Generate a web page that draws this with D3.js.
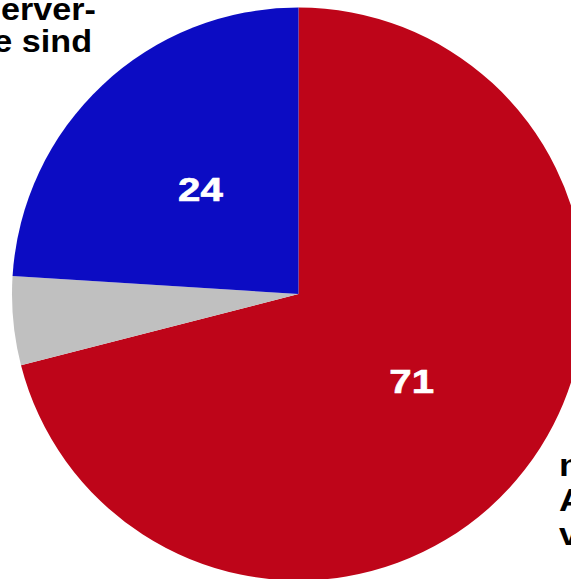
<!DOCTYPE html>
<html>
<head>
<meta charset="utf-8">
<script src="https://cdn.jsdelivr.net/npm/d3@7"></script>
<style>
  html, body { margin: 0; padding: 0; background: #ffffff; overflow: hidden; }
  svg { display: block; }
  .note { font-family: "Liberation Sans", Arial, sans-serif; font-weight: bold; fill: #000000; }
  .val { font-family: "Liberation Sans", Arial, sans-serif; font-weight: bold; fill: #ffffff; }
</style>
</head>
<body>
<svg id="chart" width="571" height="579"></svg>
<script>
// Slices, drawn clockwise from 12 o'clock
const categories = ["rot", "grau", "blau"];
const values = [71, 5, 24];
const colors = ["#be0519", "#c0c0c0", "#0c0cc3"];
const showValue = [true, false, true];

// Annotation text that runs off the edges of the page
const noteTopLeft = ["erver-", "e sind"];
const noteBottomRight = ["n", "A", "v"];

const width = 571, height = 579;
const cx = 298.5, cy = 294, radius = 286.5;

const svg = d3.select("#chart");
const g = svg.append("g").attr("transform", `translate(${cx},${cy})`);

const data = categories.map((c, i) => ({ name: c, value: values[i], color: colors[i], show: showValue[i] }));

const pie = d3.pie().sort(null).value(d => d.value).startAngle(0).endAngle(2 * Math.PI);
const arc = d3.arc().innerRadius(0).outerRadius(radius);
const labelArc = d3.arc().innerRadius(radius * 0.5).outerRadius(radius * 0.5);

const arcs = pie(data);

g.selectAll("path.slice")
  .data(arcs)
  .enter()
  .append("path")
  .attr("class", "slice")
  .attr("d", arc)
  .attr("fill", d => d.data.color);

g.selectAll("text.val")
  .data(arcs.filter(d => d.data.show))
  .enter()
  .append("text")
  .attr("class", "val")
  .attr("transform", d => {
    const [x, y] = labelArc.centroid(d);
    return `translate(${x},${y + 11.5}) scale(1.22,1)`;
  })
  .attr("text-anchor", "middle")
  .attr("font-size", 33)
  .attr("stroke", "#ffffff")
  .attr("stroke-width", 0.6)
  .text(d => d.data.value);

// Top-left note (wide bold lettering)
svg.append("g").selectAll("text")
  .data(noteTopLeft)
  .enter()
  .append("text")
  .attr("class", "note")
  .attr("text-anchor", "end")
  .attr("transform", (d, i) => `translate(${i === 0 ? 96 : 92},${20 + i * 31.5}) scale(1.12,1)`)
  .attr("font-size", 30.5)
  .text(d => d);

// Bottom-right note
svg.append("g").selectAll("text")
  .data(noteBottomRight)
  .enter()
  .append("text")
  .attr("class", "note")
  .attr("text-anchor", "start")
  .attr("transform", (d, i) => `translate(559,${476 + i * 34.5}) scale(1.12,1)`)
  .attr("font-size", 32)
  .text(d => d);
</script>
</body>
</html>
